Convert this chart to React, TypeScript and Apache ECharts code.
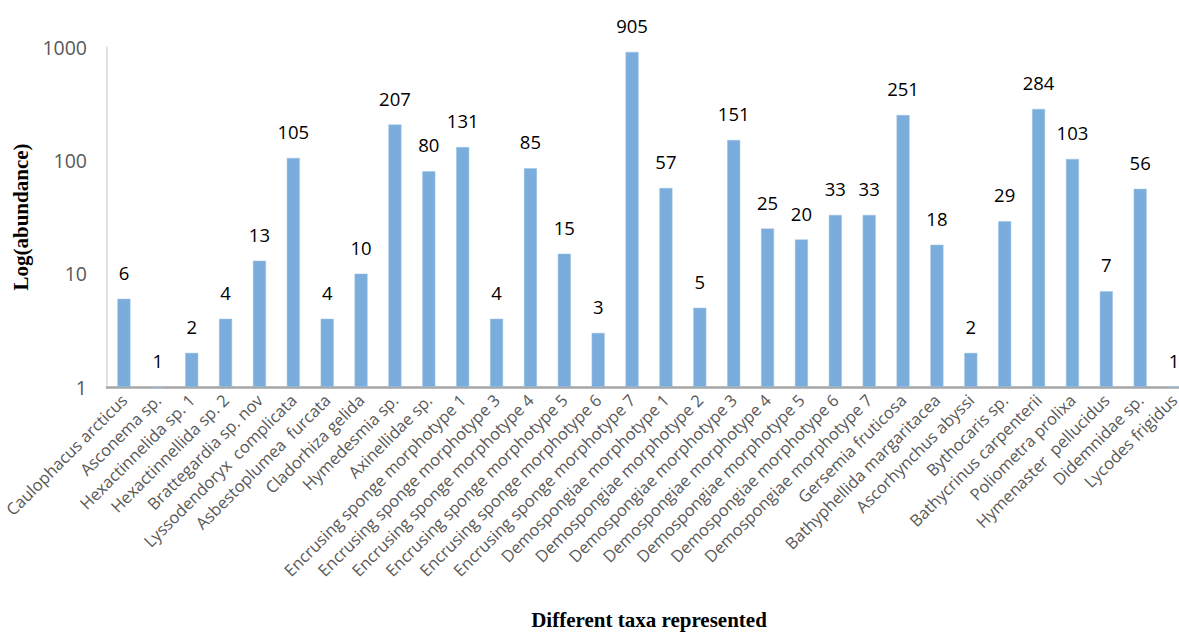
import React, { useEffect, useRef } from "react";
import * as echarts from "echarts";

// Taxa shown along the category axis
const taxa: string[] = [
  "Caulophacus arcticus",
  "Asconema sp.",
  "Hexactinnelida sp. 1",
  "Hexactinnellida sp. 2",
  "Brattegardia sp. nov",
  "Lyssodendoryx  complicata",
  "Asbestoplumea  furcata",
  "Cladorhiza gelida",
  "Hymedesmia sp.",
  "Axinellidae sp.",
  "Encrusing sponge morphotype 1",
  "Encrusing sponge morphotype 3",
  "Encrusing sponge morphotype 4",
  "Encrusing sponge morphotype 5",
  "Encrusing sponge morphotype 6",
  "Encrusing sponge morphotype 7",
  "Demospongiae morphotype 1",
  "Demospongiae morphotype 2",
  "Demospongiae morphotype 3",
  "Demospongiae morphotype 4",
  "Demospongiae morphotype 5",
  "Demospongiae morphotype 6",
  "Demospongiae morphotype 7",
  "Gersemia fruticosa",
  "Bathyphellida margaritacea",
  "Ascorhynchus abyssi",
  "Bythocaris sp.",
  "Bathycrinus carpenterii",
  "Poliometra prolixa",
  "Hymenaster  pellucidus",
  "Didemnidae sp.",
  "Lycodes frigidus",
];

// Abundance counts per taxon
const abundance: number[] = [
  6, 1, 2, 4, 13, 105, 4, 10, 207, 80, 131, 4, 85, 15, 3, 905, 57, 5, 151, 25,
  20, 33, 33, 251, 18, 2, 29, 284, 103, 7, 56, 1,
];

const yTitle = "Log(abundance)";
const xTitle = "Different taxa represented";

export default function App() {
  const ref = useRef<HTMLDivElement>(null);

  useEffect(() => {
    if (!ref.current) return;
    const chart = echarts.init(ref.current, undefined, { renderer: "svg" });
    chart.setOption({
      animation: false,
      backgroundColor: "#ffffff",
      grid: {
        left: 107,
        right: -12,
        top: 47,
        bottom: 248,
        containLabel: false,
        outerBoundsMode: "none",
      },
      xAxis: {
        type: "category",
        data: taxa,
        name: xTitle,
        nameLocation: "middle",
        nameGap: 222,
        nameTextStyle: {
          fontFamily: "Liberation Serif",
          fontWeight: "bold",
          fontSize: 21,
          color: "#000000",
        },
        axisLine: { lineStyle: { color: "#a6a6a6", width: 2.5 } },
        axisTick: { show: false },
        axisLabel: {
          interval: 0,
          rotate: 45,
          margin: 10,
          fontFamily: "Open Sans",
          fontSize: 16.5,
          color: "#595959",
        },
      },
      yAxis: {
        type: "log",
        logBase: 10,
        min: 1,
        max: 1000,
        name: yTitle,
        nameLocation: "middle",
        nameGap: 76,
        nameRotate: 90,
        nameTextStyle: {
          fontFamily: "Liberation Serif",
          fontWeight: "bold",
          fontSize: 21,
          color: "#000000",
        },
        axisLine: { show: true, lineStyle: { color: "#d9d9d9", width: 1.5 } },
        axisTick: { show: false },
        splitLine: { show: false },
        axisLabel: {
          margin: 20,
          fontFamily: "Open Sans",
          fontSize: 19.5,
          color: "#595959",
          formatter: (v: number) => String(Math.round(v)),
        },
      },
      series: [
        {
          type: "bar",
          data: abundance,
          barWidth: 13,
          itemStyle: { color: "#7aaddc", borderColor: "#9cc2e5", borderWidth: 0.5 },
          label: {
            show: true,
            position: "top",
            distance: 17,
            fontFamily: "Open Sans",
            fontSize: 18.5,
            color: "#000000",
          },
        },
      ],
    });
    return () => chart.dispose();
  }, []);

  return (
    <div style={{ position: "fixed", left: 0, top: 0, width: 1179, height: 635, overflow: "hidden" }}>
      <div ref={ref} style={{ width: 1179, height: 635 }} />
    </div>
  );
}
